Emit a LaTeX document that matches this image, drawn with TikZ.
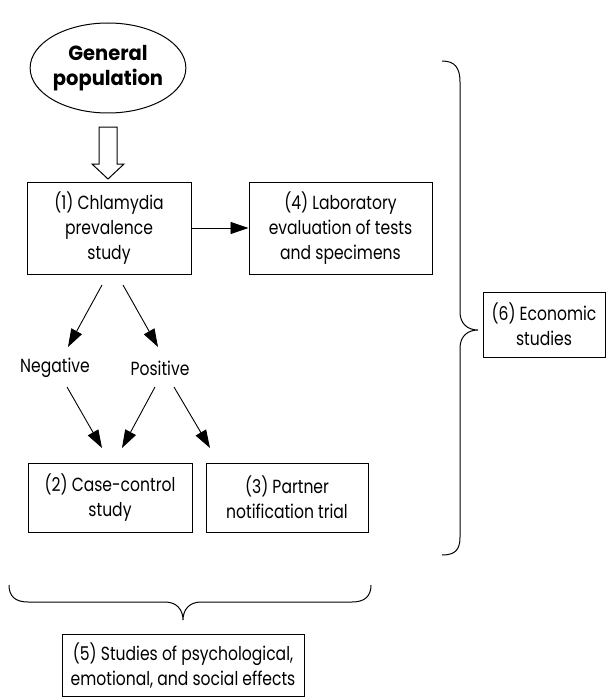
\documentclass[tikz,border=0pt]{standalone}
\usepackage{fontspec}
\setmainfont{Poppins}[FakeStretch=0.82]
\newfontfamily\gpfont{Poppins}[FakeStretch=0.95]
\usetikzlibrary{shapes.geometric,arrows.meta}
\begin{document}
\begin{tikzpicture}[x=1pt,y=-1pt,
  every node/.style={font=\fontsize{19}{25}\selectfont},
  box/.style={draw,line width=1pt,inner sep=0pt,align=center},
  arr/.style={-{Triangle[length=18pt,width=12pt]},line width=0.9pt},
  brace/.style={line width=1pt}]
\useasboundingbox (0,0) rectangle (613,698);
\node[draw,ellipse,line width=1pt,minimum width=140pt,minimum height=90pt,inner sep=0pt,align=center,font=\gpfont\fontsize{20.5}{25}\selectfont\bfseries] (gp) at (108,68) {General\\population};
\node[box,minimum width=164pt,minimum height=92pt] (b1) at (109,228) {(1) Chlamydia\\prevalence\\study};
\node[box,minimum width=183pt,minimum height=92pt] (b4) at (340.5,228) {(4) Laboratory\\evaluation of tests\\and specimens};
\node (neg) at (55,368) {Negative};
\node (pos) at (160,368) {Positive};
\node[box,minimum width=164pt,minimum height=69pt] (b2) at (110,497.5) {(2) Case-control\\study};
\node[box,minimum width=162pt,minimum height=69pt] (b3) at (287,497.5) {(3) Partner\\notification trial};
\node[box,minimum width=122pt,minimum height=65pt] (b6) at (544,324.5) {(6) Economic\\studies};
\node[box,minimum width=242pt,minimum height=62pt] (b5) at (183,665) {(5) Studies of psychological,\\emotional, and social effects};
% hollow arrow
\draw[line width=1pt] (99,127) -- (99,164) -- (92,164) -- (108,179) -- (124,164) -- (117,164) -- (117,127) -- cycle;
% arrows
\draw[arr] (b1.east) -- (b4.west);
\draw[arr] (102,285) -- (68,347);
\draw[arr] (123,285) -- (158,347);
\draw[arr] (67,387) -- (102,448);
\draw[arr] (155,387) -- (122,448);
\draw[arr] (174,387) -- (210,448);
% right brace
\draw[brace] (442,61) .. controls (455,61) and (460,68) .. (460,82) -- (460,312)
  .. controls (460,324) and (468,330) .. (478,330)
  .. controls (468,330) and (460,336) .. (460,348) -- (460,537)
  .. controls (460,550) and (455,555) .. (442,555);
% bottom brace
\draw[brace] (9,585) .. controls (9,596) and (15,602) .. (28,602) -- (165,602)
  .. controls (177,602) and (183,610) .. (183,620)
  .. controls (183,610) and (189,602) .. (201,602) -- (352,602)
  .. controls (365,602) and (371,596) .. (371,585);
\end{tikzpicture}
\end{document}
